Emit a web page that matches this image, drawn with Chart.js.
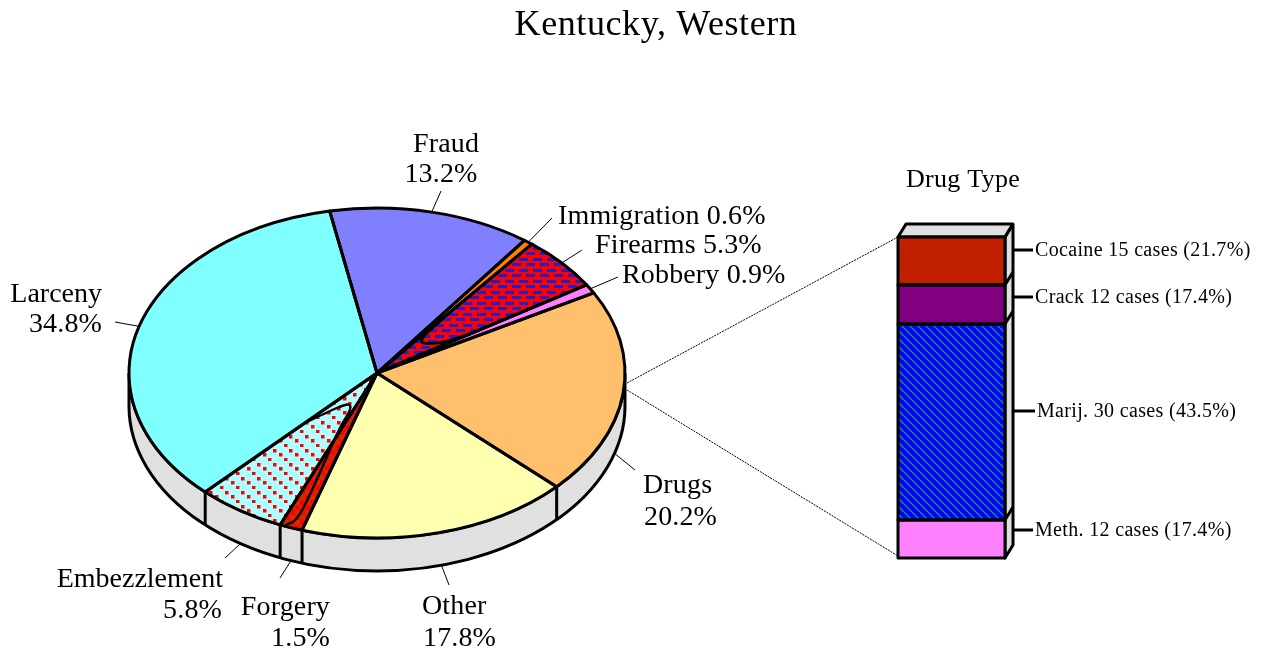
<!DOCTYPE html>
<html>
<head>
<meta charset="utf-8">
<title>Kentucky, Western</title>
<script src="https://cdn.jsdelivr.net/npm/chart.js@4"></script>
<style>
    html, body {margin: 0; padding: 0; background: #ffffff;}
    canvas {position: absolute; left: 0; top: 0;}
</style>
</head>
<body>
<canvas id="pieChart" width="1262" height="651"></canvas>
<canvas id="barChart" width="1262" height="651"></canvas>
<script>
const offenses = ['Fraud', 'Immigration', 'Firearms', 'Robbery', 'Drugs', 'Other', 'Forgery', 'Embezzlement', 'Larceny'];
const offenseShares = [13.2, 0.6, 5.3, 0.9, 20.2, 17.8, 1.5, 5.8, 34.8];
const drugTypes = ['Meth.', 'Marij.', 'Crack', 'Cocaine'];
const drugCases = [12, 30, 12, 15];
const drugShares = [17.4, 43.5, 17.4, 21.7];
// lengths of the bar segments as drawn in the picture, they do not follow the case counts
const drugBarLengths = [38, 196, 39, 48];

const FONT = '"Liberation Serif", "Times New Roman", serif';
const SQUASH = 0.665;
const RIM = 33;
const LINE = 3;

function makeTile(w, h, bg, draw) {
    const tile = document.createElement('canvas');
    tile.width = w;
    tile.height = h;
    const t = tile.getContext('2d');
    t.fillStyle = bg;
    t.fillRect(0, 0, w, h);
    draw(t);
    return tile;
}

const pieCtx = document.getElementById('pieChart').getContext('2d');

function piePattern(tile) {
    // the pie is painted under a squashed transform, undo that for the fill pattern
    const pattern = pieCtx.createPattern(tile, 'repeat');
    pattern.setTransform(new DOMMatrix().scale(1, 1 / SQUASH));
    return pattern;
}

const brickTile = makeTile(14, 11, '#ff0000', t => {
    t.fillStyle = '#2020c8';
    t.fillRect(1, 1, 9, 3);
    t.fillRect(8, 6, 9, 3);
    t.fillRect(-6, 6, 9, 3);
});
const dotTile = makeTile(16, 14, '#b0ffff', t => {
    t.fillStyle = '#ff0000';
    t.fillRect(1, 2, 3.5, 3.5);
    t.fillRect(7, 6, 3.5, 3.5);
    t.fillRect(12, 11, 3.5, 3.5);
});
const checkTile = makeTile(10, 10, '#ff0000', t => {
    t.fillStyle = '#c83000';
    t.fillRect(0, 0, 5, 5);
    t.fillRect(5, 5, 5, 5);
});
const hatchTile = makeTile(8, 8, '#0000ff', t => {
    t.strokeStyle = '#109070';
    t.lineWidth = 1.5;
    for (let i = -8; i <= 8; i += 8) {
        t.beginPath();
        t.moveTo(i, 0);
        t.lineTo(i + 8, 8);
        t.stroke();
    }
});

const offenseColors = ['#8080ff', '#ff8000', piePattern(brickTile), '#ff80ff', '#ffc06e', '#ffffb0',
    piePattern(checkTile), piePattern(dotTile), '#80ffff'];

// share of the slice's arc where each leader starts, and where it ends on the page
const leaderAt = [0.5, 0.5, 0.5, 0.5, 0.63, 0.49, 0.5, 0.5, 0.5];
const leaderEnds = [[441, 191], [552, 218], [582, 250], [618, 277], [635, 470], [449, 585], [280, 578], [225, 558], [115, 322]];

const pieLabels = [
    {text: 'Kentucky, Western', x: 656, y: 35, size: 36, spacing: 0.6, align: 'center'},
    {text: 'Fraud', x: 446, y: 152, align: 'center'},
    {text: '13.2%', x: 441, y: 182, align: 'center'},
    {text: 'Immigration 0.6%', x: 558, y: 224},
    {text: 'Firearms 5.3%', x: 595, y: 253},
    {text: 'Robbery 0.9%', x: 622, y: 283},
    {text: 'Drugs', x: 643, y: 493},
    {text: '20.2%', x: 644, y: 525},
    {text: 'Other', x: 422, y: 614},
    {text: '17.8%', x: 423, y: 646},
    {text: 'Forgery', x: 330, y: 615, align: 'right'},
    {text: '1.5%', x: 330, y: 646, align: 'right'},
    {text: 'Embezzlement', x: 223, y: 587, spacing: 0, align: 'right'},
    {text: '5.8%', x: 222, y: 618, align: 'right'},
    {text: 'Larceny', x: 102, y: 302, spacing: 0, align: 'right'},
    {text: '34.8%', x: 102, y: 332, align: 'right'}
];

function arcPoint(arc, share, radiusShare) {
    const angle = arc.startAngle + (arc.endAngle - arc.startAngle) * share;
    return {
        x: arc.x + arc.outerRadius * radiusShare * Math.cos(angle),
        y: arc.y + arc.outerRadius * radiusShare * Math.sin(angle) * SQUASH
    };
}

function smoothLine(ctx, pts) {
    ctx.beginPath();
    ctx.moveTo(pts[0].x, pts[0].y);
    for (let i = 1; i < pts.length - 1; i++) {
        const midX = (pts[i].x + pts[i + 1].x) / 2;
        const midY = (pts[i].y + pts[i + 1].y) / 2;
        ctx.quadraticCurveTo(pts[i].x, pts[i].y, midX, midY);
    }
    const last = pts[pts.length - 1];
    ctx.lineTo(last.x, last.y);
    ctx.stroke();
}

const tiltedPie = {
    id: 'tiltedPie',
    beforeDatasetsDraw(chart) {
        const ctx = chart.ctx;
        const arcs = chart.getDatasetMeta(0).data;
        const {x, y, outerRadius: r} = arcs[0];

        // rim below the front half
        ctx.save();
        ctx.beginPath();
        ctx.ellipse(x, y + RIM, r, r * SQUASH, 0, 0, Math.PI);
        ctx.ellipse(x, y, r, r * SQUASH, 0, Math.PI, 0, true);
        ctx.closePath();
        ctx.fillStyle = '#e0e0e0';
        ctx.fill();
        ctx.strokeStyle = '#000000';
        ctx.lineWidth = LINE;
        ctx.stroke();
        arcs.forEach(arc => {
            const s = Math.sin(arc.endAngle);
            if (s > 0) {
                const p = arcPoint(arc, 1, 1);
                ctx.beginPath();
                ctx.moveTo(p.x, p.y);
                ctx.lineTo(p.x, p.y + RIM);
                ctx.stroke();
            }
        });
        ctx.lineWidth = 1;
        arcs.forEach((arc, i) => {
            const p = arcPoint(arc, leaderAt[i], 1);
            const front = Math.sin((arc.startAngle + arc.endAngle) / 2) > 0;
            ctx.beginPath();
            ctx.moveTo(p.x, p.y + (front ? RIM : 0));
            ctx.lineTo(leaderEnds[i][0], leaderEnds[i][1]);
            ctx.stroke();
        });
        ctx.restore();

        // squash the library's circular slices into the tilted ellipse
        ctx.save();
        ctx.translate(x, y);
        ctx.scale(1, SQUASH);
        ctx.translate(-x, -y);
    },
    afterDatasetsDraw(chart) {
        const ctx = chart.ctx;
        ctx.restore();
        const arcs = chart.getDatasetMeta(0).data;

        ctx.save();
        ctx.strokeStyle = '#000000';
        ctx.lineWidth = LINE;
        ctx.lineJoin = 'round';
        arcs.forEach(arc => {
            ctx.beginPath();
            ctx.moveTo(arc.x, arc.y);
            ctx.ellipse(arc.x, arc.y, arc.outerRadius, arc.outerRadius * SQUASH, 0, arc.startAngle, arc.endAngle);
            ctx.closePath();
            ctx.stroke();
        });

        // the stray loops inside the patterned slices
        const firearms = arcs[offenses.indexOf('Firearms')];
        const embezzlement = arcs[offenses.indexOf('Embezzlement')];
        const forgery = arcs[offenses.indexOf('Forgery')];
        smoothLine(ctx, [[0.02, 0.42], [0.03, 0.3], [0.25, 0.255], [0.55, 0.27], [0.9, 0.33], [1, 0.45]]
            .map(p => arcPoint(firearms, p[0], p[1])));
        ctx.lineWidth = 2.4;
        smoothLine(ctx, [
            arcPoint(embezzlement, 1, 0.42), arcPoint(embezzlement, 0.8, 0.3), arcPoint(embezzlement, 0.6, 0.245),
            arcPoint(embezzlement, 0.35, 0.215), arcPoint(embezzlement, 0.1, 0.25), arcPoint(embezzlement, 0.08, 0.36),
            arcPoint(forgery, 0.54, 0.69), arcPoint(forgery, 0.39, 0.95), arcPoint(forgery, 0.78, 0.99)
        ]);
        ctx.restore();
    },
    afterDraw(chart) {
        drawTexts(chart.ctx, pieLabels, 28, 0.15);
    }
};

function drawTexts(ctx, texts, size, spacing) {
    ctx.save();
    ctx.fillStyle = '#000000';
    ctx.textBaseline = 'alphabetic';
    texts.forEach(label => {
        ctx.font = `${label.size || size}px ${FONT}`;
        ctx.letterSpacing = `${label.spacing === undefined ? spacing : label.spacing}px`;
        ctx.textAlign = label.align || 'left';
        ctx.fillText(label.text, label.x, label.y);
    });
    ctx.restore();
}

const pieChart = new Chart(pieCtx, {
    type: 'pie',
    data: {
        labels: offenses,
        datasets: [{
            data: offenseShares,
            backgroundColor: offenseColors,
            borderWidth: 0,
            hoverOffset: 0,
            clip: false
        }]
    },
    options: {
        responsive: false,
        animation: false,
        devicePixelRatio: 1,
        rotation: -11,
        events: [],
        layout: {padding: {left: 129, right: 637, top: 125, bottom: 30}},
        plugins: {legend: {display: false}, tooltip: {enabled: false}}
    },
    plugins: [tiltedPie]
});

// stub lengths and label offsets on the right of the bar
const DEPTH_X = 8;
const DEPTH_Y = 13;
const drugTickY = [530, 411, 297, 250];
const drugLabelX = [1035, 1037, 1035, 1035];

const barBlock = {
    id: 'barBlock',
    beforeDatasetsDraw(chart) {
        const ctx = chart.ctx;
        const {left, right, top, bottom} = chart.chartArea;
        const pie = pieChart.getDatasetMeta(0).data[offenses.indexOf('Drugs')];

        ctx.save();
        ctx.strokeStyle = '#000000';
        ctx.lineWidth = 1;
        ctx.setLineDash([2, 1]);
        ctx.beginPath();
        ctx.moveTo(pie.x + pie.outerRadius + 2, pie.y + 10);
        ctx.lineTo(left, top);
        ctx.moveTo(pie.x + pie.outerRadius + 2, pie.y + 17);
        ctx.lineTo(left, bottom - 2);
        ctx.stroke();
        ctx.setLineDash([]);

        ctx.fillStyle = '#e0e0e0';
        ctx.lineWidth = LINE;
        ctx.lineJoin = 'round';
        ctx.beginPath();
        ctx.moveTo(left, top);
        ctx.lineTo(left + DEPTH_X, top - DEPTH_Y);
        ctx.lineTo(right + DEPTH_X, top - DEPTH_Y);
        ctx.lineTo(right + DEPTH_X, bottom - DEPTH_Y);
        ctx.lineTo(right, bottom);
        ctx.lineTo(right, top);
        ctx.closePath();
        ctx.fill();
        ctx.stroke();
        ctx.beginPath();
        ctx.moveTo(right, top);
        ctx.lineTo(right + DEPTH_X, top - DEPTH_Y);
        ctx.stroke();
        ctx.restore();
    },
    afterDatasetsDraw(chart) {
        const ctx = chart.ctx;
        const {right} = chart.chartArea;
        ctx.save();
        ctx.strokeStyle = '#000000';
        ctx.lineWidth = LINE;
        ctx.lineJoin = 'round';
        chart.data.datasets.forEach((ds, i) => {
            const bar = chart.getDatasetMeta(i).data[0];
            const half = bar.width / 2;
            ctx.strokeRect(bar.x - half, bar.y, bar.width, bar.base - bar.y);
            ctx.beginPath();
            ctx.moveTo(right, bar.y);
            ctx.lineTo(right + DEPTH_X, bar.y - DEPTH_Y);
            ctx.stroke();
            ctx.beginPath();
            ctx.moveTo(right + DEPTH_X, drugTickY[i]);
            ctx.lineTo(drugLabelX[i] - 2, drugTickY[i]);
            ctx.stroke();
        });
        ctx.restore();
        const labels = drugTypes.map((name, i) => ({
            text: `${name} ${drugCases[i]} cases (${drugShares[i].toFixed(1)}%)`,
            x: drugLabelX[i],
            y: drugTickY[i] + 6
        }));
        labels.push({text: 'Drug Type', x: 963, y: 187, size: 26, spacing: 0.3, align: 'center'});
        drawTexts(ctx, labels, 20, 0.33);
    }
};

const barCtx = document.getElementById('barChart').getContext('2d');
const drugColors = ['#ff80ff', barCtx.createPattern(hatchTile, 'repeat'), '#800080', '#c02000'];

new Chart(barCtx, {
    type: 'bar',
    data: {
        labels: ['Drug Type'],
        datasets: drugTypes.map((name, i) => ({
            label: name,
            data: [drugBarLengths[i]],
            backgroundColor: drugColors[i],
            borderWidth: 0,
            barPercentage: 1,
            categoryPercentage: 1
        }))
    },
    options: {
        responsive: false,
        animation: false,
        devicePixelRatio: 1,
        events: [],
        layout: {padding: {left: 898, right: 257, top: 237, bottom: 93}},
        scales: {
            x: {stacked: true, display: false},
            y: {stacked: true, display: false, min: 0, max: drugBarLengths.reduce((a, b) => a + b, 0)}
        },
        plugins: {legend: {display: false}, tooltip: {enabled: false}}
    },
    plugins: [barBlock]
});
</script>
</body>
</html>
